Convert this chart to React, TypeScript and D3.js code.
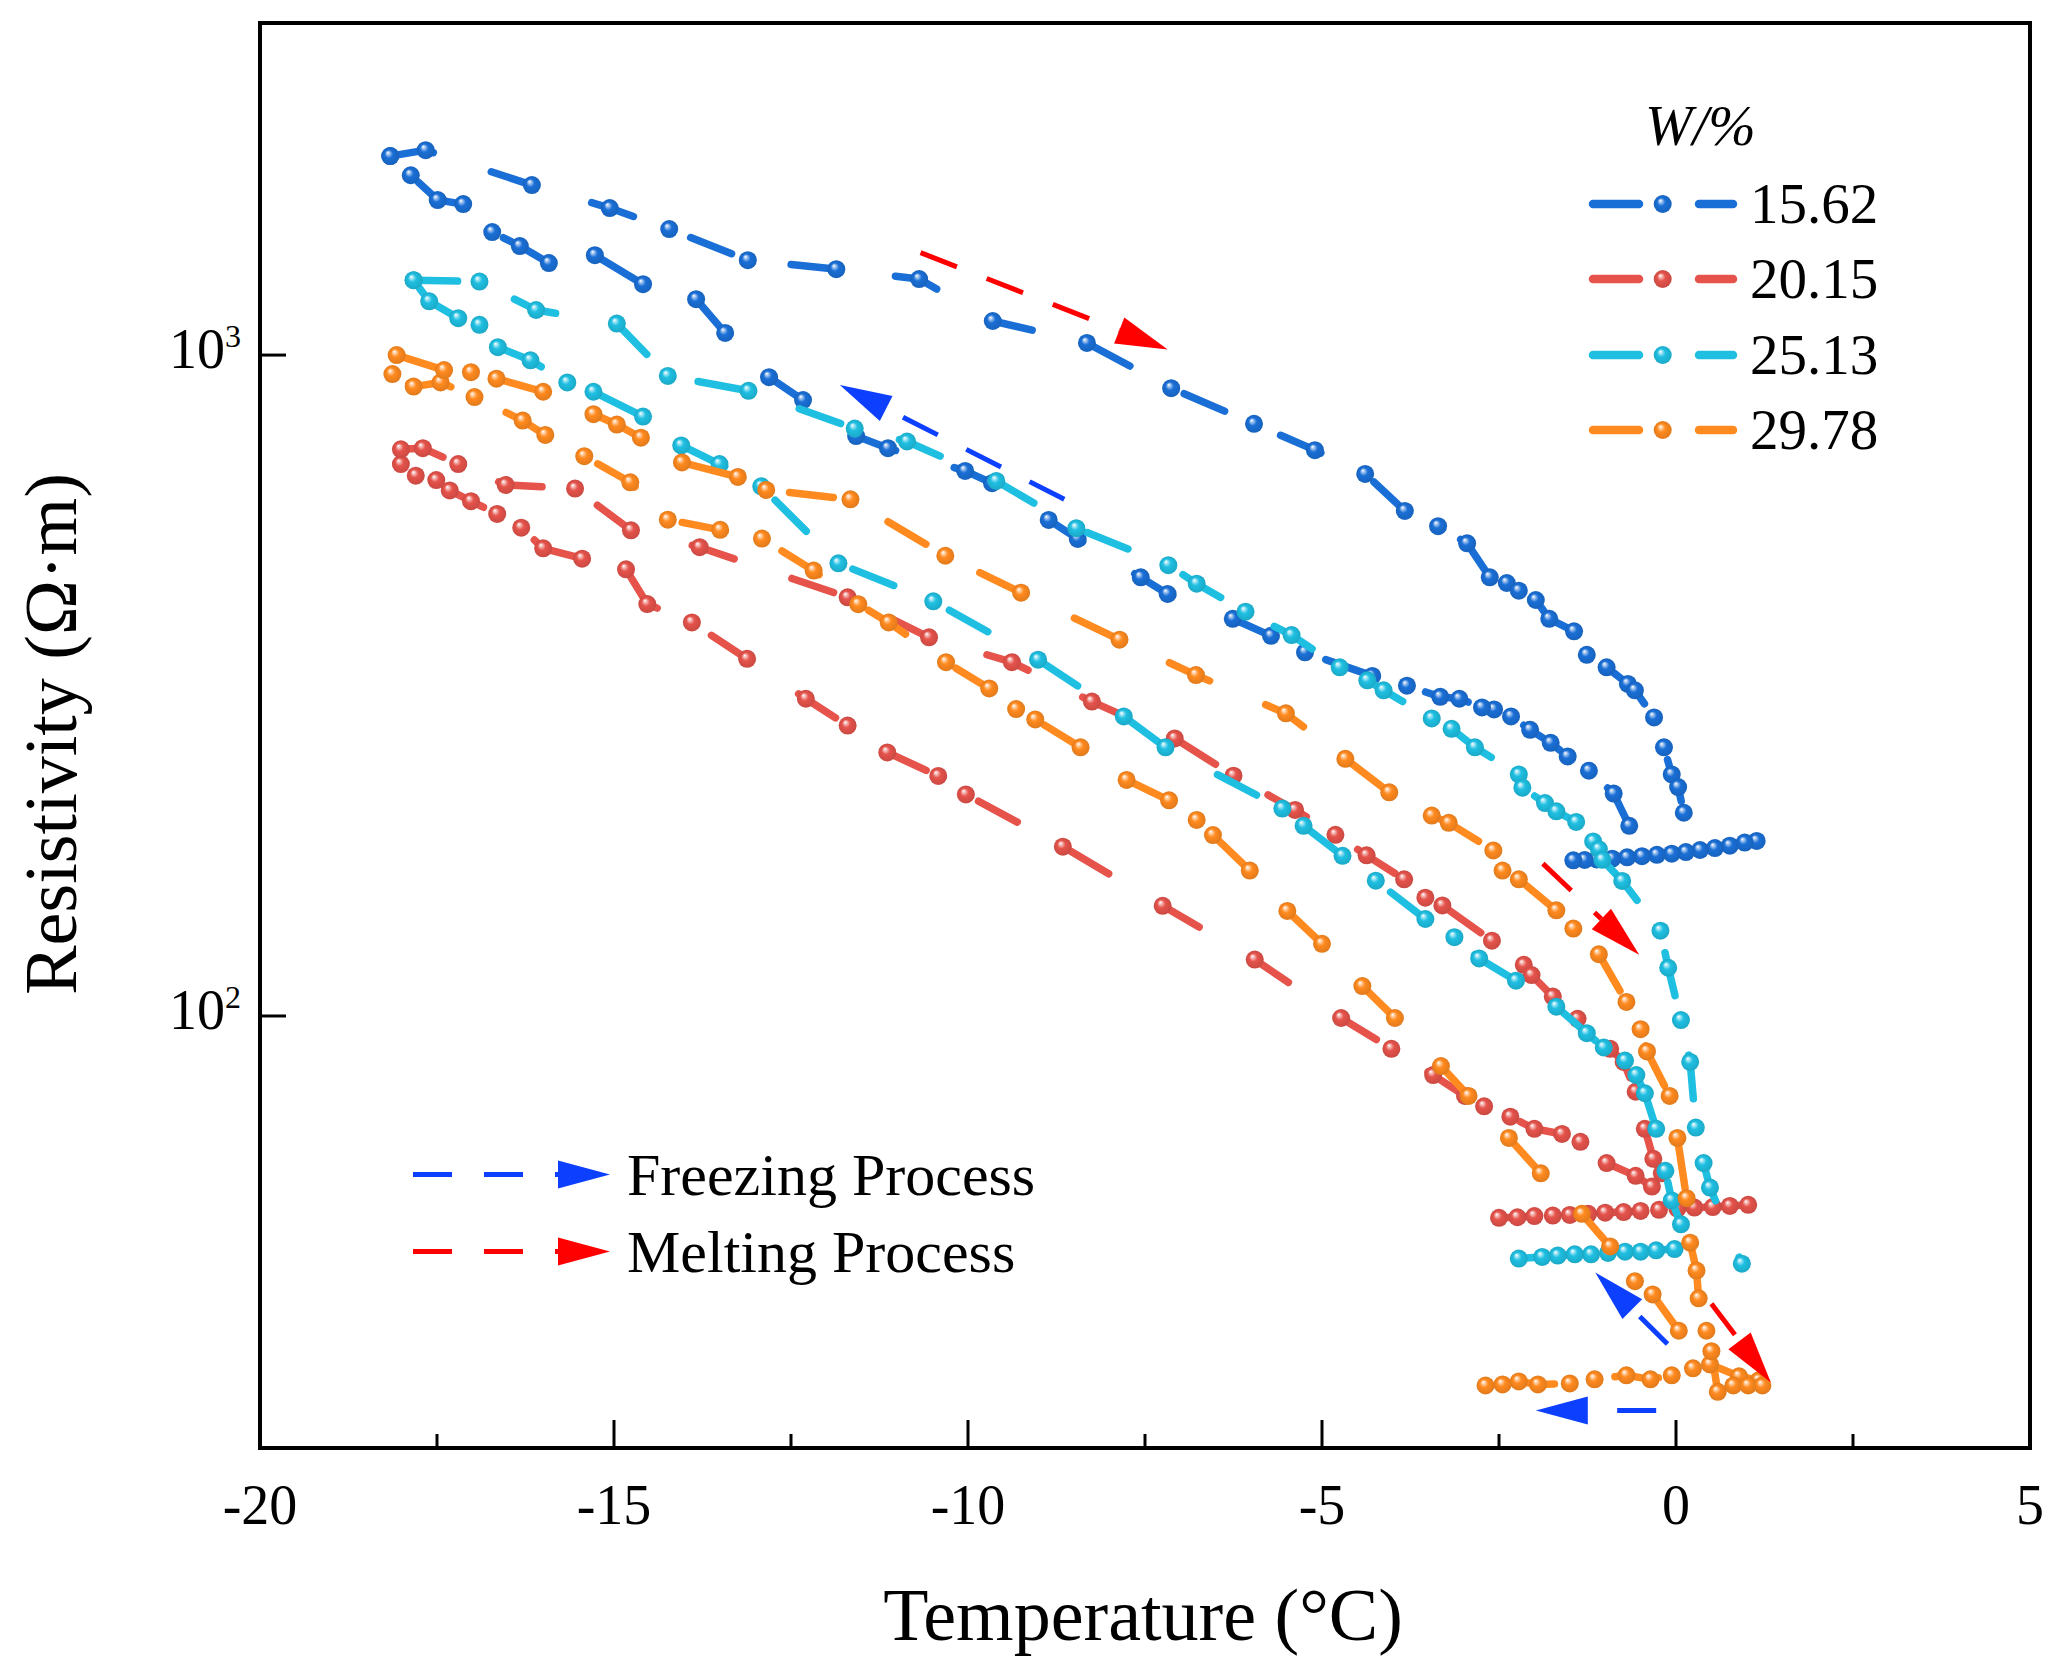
import React from 'react';
import * as d3 from 'd3';

const WIDTH = 2055;
const HEIGHT = 1679;
const PLOT = { left: 260, right: 2030, top: 23, bottom: 1448 };
const FONT = "'Liberation Serif', 'Times New Roman', serif";

// ---------- axes ----------
const xDomain: [number, number] = [-20, 5];
const yDomain: [number, number] = [22.2, 3180];
const xTicksMajor = [-20, -15, -10, -5, 0, 5];
const xTicksMinor = [-17.5, -12.5, -7.5, -2.5, 2.5];
const yTicks = [100, 1000];
const yTickExponents = ['2', '3'];

// ---------- series ----------
const seriesNames = ['15.62', '20.15', '25.13', '29.78'];
const seriesColors = ['#1a6fd6', '#e5534b', '#1fbfe2', '#ff8a1f'];

// W = 15.62 %  [temperature °C, resistivity Ω·m]
const flat15: [number, number][] = [[1.14,184],[0.97,183],[0.76,181],[0.55,179.5],[0.34,178.3],[0.14,177],[-0.06,176],[-0.27,175.3],[-0.48,174.5],[-0.69,173.8],[-0.90,173],[-1.12,172.5],[-1.29,172.2],[-1.45,172]];
const freeze15: [number, number][] = [[-0.66,194],[-0.88,217],[-1.23,235],[-1.53,247],[-1.77,259],[-2.06,271],[-2.33,284],[-2.57,291],[-2.74,293],[-3.06,302],[-3.33,304],[-3.80,316],[-4.29,327],[-5.24,355],[-5.72,376],[-6.26,399],[-7.18,435],[-7.56,461],[-8.45,527],[-8.86,563],[-9.66,640],[-10.04,668],[-11.13,723],[-11.58,754],[-12.33,855],[-12.81,926],[-13.43,1080],[-13.84,1215],[-14.59,1280],[-15.27,1416],[-15.92,1378],[-16.33,1462],[-16.72,1535],[-17.13,1692],[-17.49,1716],[-17.87,1871],[-18.16,2000]];
const melt15: [number, number][] = [[-18.16,2000],[-17.66,2042],[-16.16,1808],[-15.06,1669],[-14.22,1551],[-13.11,1392],[-11.86,1349],[-10.69,1303],[-9.65,1126],[-8.32,1043],[-7.13,891],[-5.96,787],[-5.10,718],[-4.39,661],[-3.83,581],[-3.36,551],[-2.95,519],[-2.63,461],[-2.39,452],[-2.22,440],[-1.98,426],[-1.79,399],[-1.44,382],[-1.26,352],[-0.98,337],[-0.68,318],[-0.58,311],[-0.31,283],[-0.17,255],[-0.06,232],[0.03,222],[0.11,203]];

// W = 20.15 %
const flat20: [number, number][] = [[1.02,51.8],[0.76,51.6],[0.52,51.4],[0.26,51.3],[0.02,51.1],[-0.24,50.9],[-0.50,50.7],[-0.74,50.5],[-1.00,50.4],[-1.24,50.2],[-1.50,50.0],[-1.74,49.9],[-2.00,49.8],[-2.24,49.6],[-2.50,49.5]];
const freeze20: [number, number][] = [[-0.34,55.2],[-0.57,57.3],[-0.98,59.9],[-1.35,64.5],[-1.61,66.3],[-2.00,67.5],[-2.34,70.4],[-2.71,73],[-2.98,75.7],[-3.43,81.4],[-4.02,89.2],[-4.73,99.3],[-5.95,121.7],[-7.25,146.8],[-8.66,180.4],[-10.03,216.4],[-10.42,230.8],[-11.14,250.5],[-11.70,275],[-12.29,302],[-13.12,347],[-13.90,394],[-14.53,420],[-14.83,474],[-15.45,492],[-16.00,510],[-16.31,548],[-16.65,575],[-17.02,601],[-17.32,624],[-17.51,647],[-17.80,657],[-18.01,684]];
const melt20: [number, number][] = [[-18.01,720],[-17.70,723],[-17.20,684],[-16.53,636],[-15.55,628],[-14.76,543],[-13.79,512],[-11.70,430],[-10.55,374],[-9.38,343],[-8.25,299],[-7.08,263],[-6.25,231],[-5.38,205],[-4.81,188],[-4.37,175],[-3.84,161],[-3.54,151],[-3.30,147],[-2.60,130],[-2.15,119.5],[-2.04,115.3],[-1.74,107],[-1.39,99],[-0.93,89.2],[-0.74,85.2],[-0.57,76.8],[-0.44,67.5],[-0.32,60.8],[-0.20,57.8]];

// W = 25.13 %
const flat25: [number, number][] = [[-0.02,44.4],[-0.28,44.2],[-0.50,44.0],[-0.72,44.0],[-0.96,43.8],[-1.20,43.6],[-1.43,43.6],[-1.67,43.4],[-1.89,43.2],[-2.22,42.95]];
const freeze25: [number, number][] = [[0.07,48.4],[-0.06,52.6],[-0.15,58.3],[-0.28,67.5],[-0.44,76.4],[-0.56,81.4],[-0.72,85.6],[-1.02,89.6],[-1.26,94.2],[-1.69,103.3],[-2.26,113.1],[-2.78,122.2],[-3.13,131.6],[-3.54,140.2],[-4.24,160.2],[-4.71,174.7],[-5.26,194],[-5.56,206],[-7.21,255],[-7.80,284],[-9.01,346],[-10.49,424],[-11.83,484],[-12.92,633],[-13.51,684],[-14.05,730],[-14.59,807],[-15.29,880],[-15.66,909],[-16.18,982],[-16.64,1028],[-16.90,1111],[-17.20,1137],[-17.61,1206],[-17.83,1298]];
const melt25: [number, number][] = [[-17.83,1298],[-16.90,1292],[-16.10,1170],[-14.96,1116],[-14.24,930],[-13.10,883],[-11.60,774],[-10.86,740],[-9.60,645],[-8.47,547],[-7.17,481],[-6.77,451],[-6.08,409],[-5.43,377],[-4.75,337],[-4.36,322],[-4.13,311],[-3.45,282],[-3.17,272],[-2.84,255],[-2.22,232],[-2.17,221.5],[-1.85,210],[-1.69,204],[-1.41,196.6],[-1.17,183.7],[-1.09,178.8],[-1.04,172.3],[-0.76,160.1],[-0.22,134.6],[-0.11,118.3],[0.07,98.6],[0.20,85.2],[0.28,67.8],[0.39,59.9],[0.48,55],[0.93,42.2]];

// W = 29.78 %
const flat30: [number, number][] = [[1.17,28.1],[0.89,28.5],[0.48,29.7],[0.24,29.3],[-0.06,28.6],[-0.36,28.2],[-0.70,28.6],[-1.15,28.2],[-1.50,27.8],[-1.95,27.7],[-2.22,28.0],[-2.45,27.7],[-2.69,27.6]];
const freeze30: [number, number][] = [[0.04,33.4],[-0.33,37.9],[-0.58,39.7],[-0.93,44.8],[-1.33,50.2],[-1.91,57.8],[-2.36,65.4],[-2.93,75.7],[-3.32,84],[-3.97,99.3],[-4.43,111],[-5.00,128.6],[-5.49,144.2],[-6.02,166],[-6.54,187.8],[-6.77,198],[-7.16,212],[-7.76,227.6],[-8.41,255],[-9.05,281],[-9.32,291.3],[-9.70,313],[-10.31,343],[-11.12,394],[-11.55,419.8],[-12.18,472],[-12.91,527.6],[-13.50,544],[-14.24,563.6],[-14.77,642],[-15.42,703],[-15.97,757],[-16.29,796],[-16.97,864],[-17.45,909],[-17.83,896],[-18.13,936]];
const melt30: [number, number][] = [[-18.07,1000],[-17.40,949],[-17.02,942],[-16.66,921],[-16.00,880],[-15.29,814],[-14.96,785],[-14.62,750],[-14.04,688],[-13.25,654],[-12.85,625],[-11.66,605],[-10.32,497],[-9.25,437],[-7.86,371],[-6.78,328],[-5.51,287],[-4.67,245],[-4.05,218],[-3.45,201],[-3.21,196],[-2.58,178],[-2.45,166],[-2.22,161],[-1.69,144.5],[-1.45,135.6],[-1.09,124],[-0.70,105],[-0.50,95.5],[-0.41,88.4],[-0.09,75.7],[0.02,65.4],[0.15,53.0],[0.20,45.4],[0.29,41.2],[0.32,37.4],[0.43,33.4],[0.50,31.1],[0.59,27.0],[0.81,27.6],[1.02,27.6],[1.22,27.6]];

// ---------- process arrows (data coordinates) ----------
const meltingArrows: [[number, number], [number, number]][] = [
  [[-10.67, 1429], [-7.18, 1020]],
  [[-1.88, 170], [-0.52, 123.8]],
  [[0.50, 36.7], [1.34, 27.9]],
];
const freezingArrows: [[number, number], [number, number]][] = [
  [[-8.64, 605], [-11.81, 901]],
  [[-0.12, 31.9], [-1.14, 40.9]],
  [[-0.28, 25.3], [-1.98, 25.3]],
];
const processLabels = ['Freezing Process', 'Melting Process'];
const processColors = ['#0d3fff', '#ff0000'];

const allSeries = [
  { segments: [flat15, freeze15, melt15] },
  { segments: [flat20, freeze20, melt20] },
  { segments: [flat25, freeze25, melt25] },
  { segments: [flat30, freeze30, melt30] },
].map((s, i) => ({ ...s, name: seriesNames[i], color: seriesColors[i] }));

const x = d3.scaleLinear().domain(xDomain).range([PLOT.left, PLOT.right]);
const y = d3.scaleLog().domain(yDomain).range([PLOT.bottom, PLOT.top]);
const line = d3
  .line<[number, number]>()
  .x((d) => x(d[0]))
  .y((d) => y(d[1]));

const LINE_W = 7.5;
const DASH = '44 61';
const MARKER_R = 9;

function Arrow({ x1, y1, x2, y2, color }: { x1: number; y1: number; x2: number; y2: number; color: string }) {
  const dx = x2 - x1;
  const dy = y2 - y1;
  const len = Math.hypot(dx, dy);
  const ux = dx / len;
  const uy = dy / len;
  const hl = 52;
  const hw = 14;
  const bx = x2 - ux * hl;
  const by = y2 - uy * hl;
  const pts = [
    [x2, y2],
    [bx - uy * hw, by + ux * hw],
    [bx + uy * hw, by - ux * hw],
  ]
    .map((p) => p.join(','))
    .join(' ');
  return (
    <g>
      <line x1={x1} y1={y1} x2={bx} y2={by} stroke={color} strokeWidth={5} strokeDasharray="39 32" />
      <polygon points={pts} fill={color} />
    </g>
  );
}

function Marker({ cx, cy, i }: { cx: number; cy: number; i: number }) {
  return <circle cx={cx} cy={cy} r={MARKER_R} fill={`url(#ball${i})`} />;
}

export default function App() {
  const legendRows = [204, 279, 355, 430];
  return (
    <svg
      width={WIDTH}
      height={HEIGHT}
      viewBox={`0 0 ${WIDTH} ${HEIGHT}`}
      style={{ position: 'absolute', left: 0, top: 0, background: '#fff' }}
      fontFamily={FONT}
    >
      <defs>
        {seriesColors.map((c, i) => {
          const light = d3.interpolateRgb(c, '#ffffff')(0.55);
          const dark = d3.color(c)!.darker(0.35).formatHex();
          return (
            <radialGradient key={i} id={`ball${i}`} cx="0.5" cy="0.5" r="0.5" fx="0.36" fy="0.3">
              <stop offset="0" stopColor="#ffffff" />
              <stop offset="0.2" stopColor={light} />
              <stop offset="0.45" stopColor={c} />
              <stop offset="1" stopColor={dark} />
            </radialGradient>
          );
        })}
      </defs>
      <rect x={0} y={0} width={WIDTH} height={HEIGHT} fill="#fff" />

      {/* series */}
      {allSeries.map((s, i) => (
        <g key={s.name}>
          {s.segments.map((seg, j) => (
            <path
              key={j}
              d={line(seg) || ''}
              fill="none"
              stroke={s.color}
              strokeWidth={LINE_W}
              strokeDasharray={DASH}
              strokeLinecap="round"
              strokeLinejoin="round"
            />
          ))}
          {s.segments.map((seg, j) =>
            seg.map((d, k) => <Marker key={`${j}-${k}`} cx={x(d[0])} cy={y(d[1])} i={i} />)
          )}
        </g>
      ))}

      {/* process arrows */}
      {freezingArrows.map(([a, b], i) => (
        <Arrow key={`f${i}`} x1={x(a[0])} y1={y(a[1])} x2={x(b[0])} y2={y(b[1])} color={processColors[0]} />
      ))}
      {meltingArrows.map(([a, b], i) => (
        <Arrow key={`m${i}`} x1={x(a[0])} y1={y(a[1])} x2={x(b[0])} y2={y(b[1])} color={processColors[1]} />
      ))}

      {/* frame */}
      <rect
        x={PLOT.left}
        y={PLOT.top}
        width={PLOT.right - PLOT.left}
        height={PLOT.bottom - PLOT.top}
        fill="none"
        stroke="#000"
        strokeWidth={4}
      />

      {/* x ticks */}
      {xTicksMajor.map((t) => (
        <g key={`xt${t}`}>
          <line x1={x(t)} x2={x(t)} y1={PLOT.bottom} y2={PLOT.bottom - 28} stroke="#000" strokeWidth={3} />
          <text x={x(t)} y={1524} fontSize={56} textAnchor="middle" fill="#000">
            {String(t)}
          </text>
        </g>
      ))}
      {xTicksMinor.map((t) => (
        <line key={`xm${t}`} x1={x(t)} x2={x(t)} y1={PLOT.bottom} y2={PLOT.bottom - 14} stroke="#000" strokeWidth={3} />
      ))}

      {/* y ticks */}
      {yTicks.map((t, i) => (
        <g key={`yt${t}`}>
          <line x1={PLOT.left} x2={PLOT.left + 26} y1={y(t)} y2={y(t)} stroke="#000" strokeWidth={3} />
          <text x={241} y={y(t) + 13} fontSize={56} textAnchor="end" fill="#000">
            10
            <tspan dy={-21} fontSize={32}>
              {yTickExponents[i]}
            </tspan>
          </text>
        </g>
      ))}

      {/* axis titles */}
      <text x={1143} y={1640} fontSize={74} textAnchor="middle" fill="#000">
        Temperature (°C)
      </text>
      <text transform="translate(76,734) rotate(-90)" fontSize={74} textAnchor="middle" fill="#000">
        Resistivity (Ω·m)
      </text>

      {/* series legend */}
      <text x={1645} y={145} fontSize={57} fontStyle="italic" fill="#000">
        W/%
      </text>
      {allSeries.map((s, i) => (
        <g key={`lg${i}`}>
          <line x1={1593} x2={1639} y1={legendRows[i]} y2={legendRows[i]} stroke={s.color} strokeWidth={LINE_W + 1} strokeLinecap="round" />
          <line x1={1699} x2={1733} y1={legendRows[i]} y2={legendRows[i]} stroke={s.color} strokeWidth={LINE_W + 1} strokeLinecap="round" />
          <circle cx={1662.7} cy={legendRows[i]} r={MARKER_R} fill={`url(#ball${i})`} />
          <text x={1750} y={legendRows[i] + 19} fontSize={57} fill="#000">
            {s.name}
          </text>
        </g>
      ))}

      {/* process legend */}
      {processLabels.map((lab, i) => {
        const yy = 1174.6 + i * 77;
        return (
          <g key={lab}>
            <Arrow x1={413} y1={yy} x2={610} y2={yy} color={processColors[i]} />
            <text x={627} y={yy + 20} fontSize={60} fill="#000">
              {lab}
            </text>
          </g>
        );
      })}
    </svg>
  );
}
